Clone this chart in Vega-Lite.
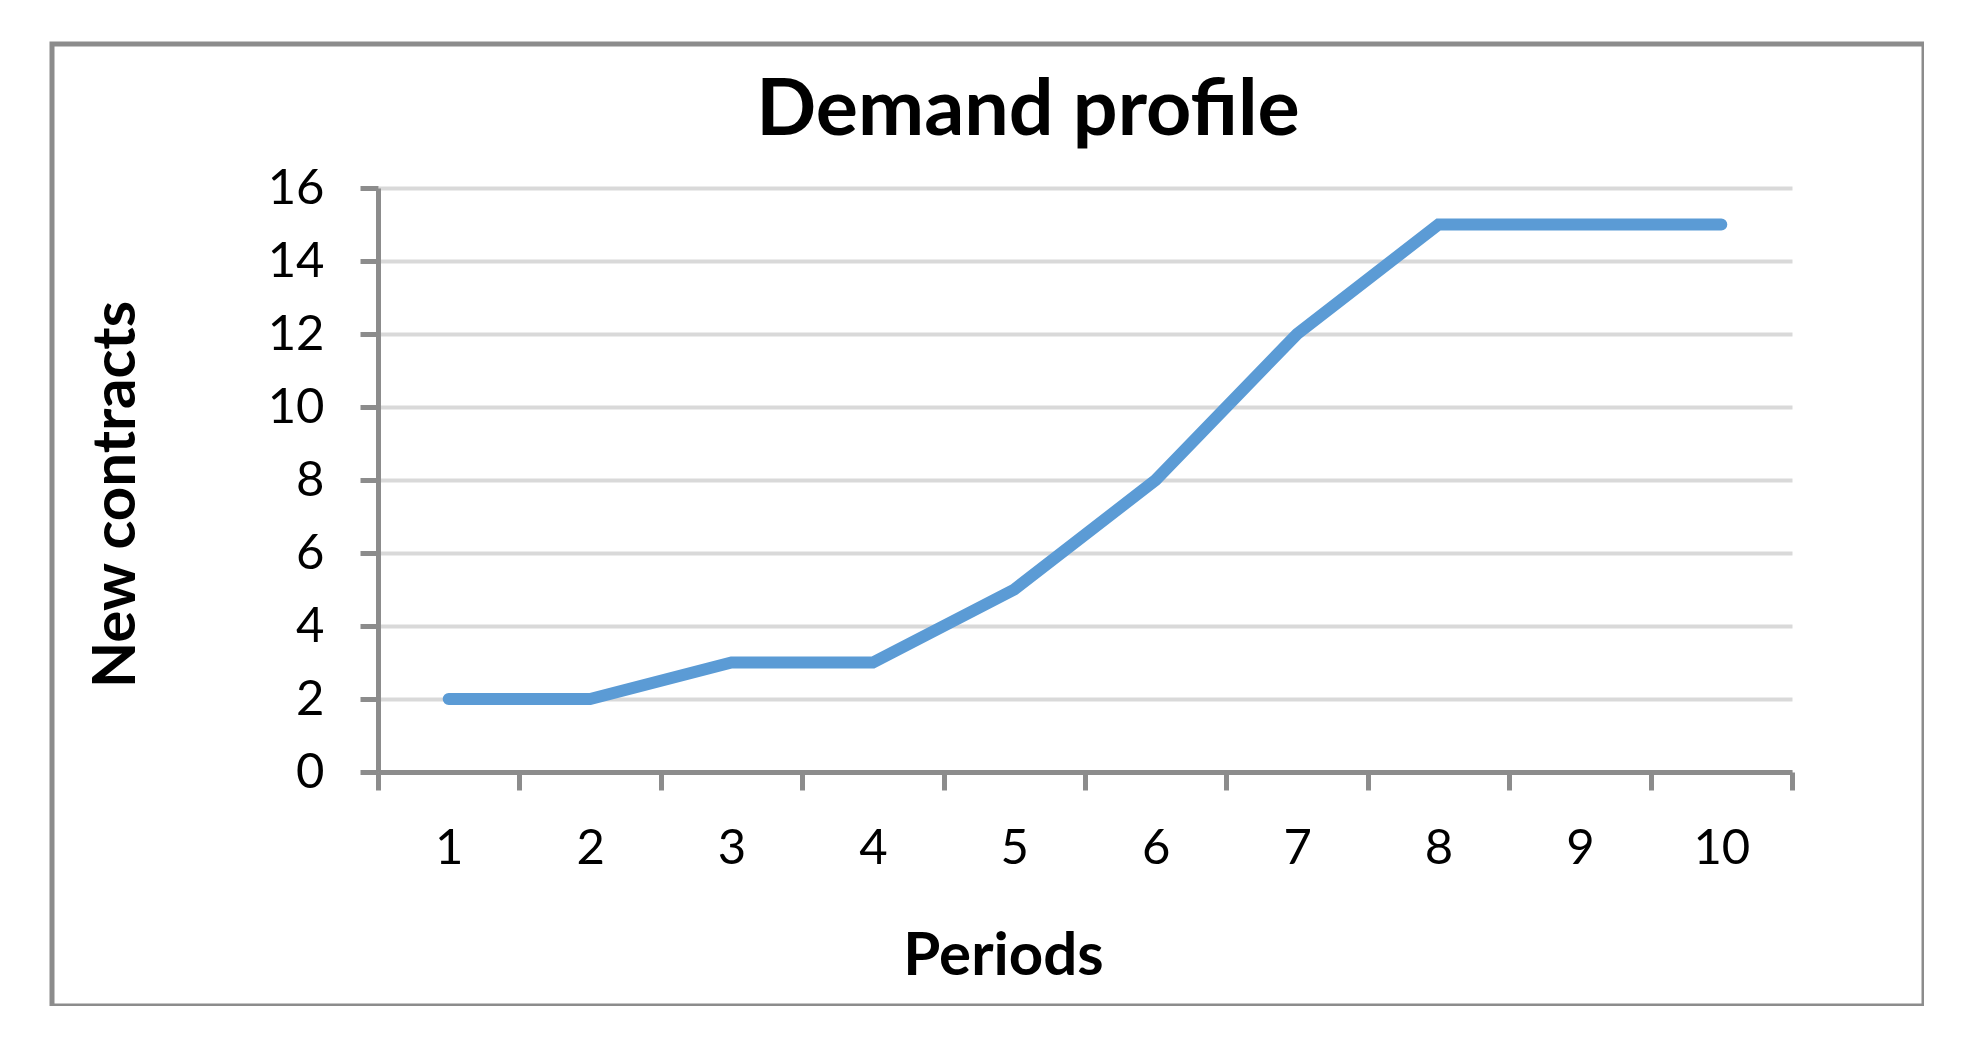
{
  "$schema": "https://vega.github.io/schema/vega-lite/v6.json",
  "width": 1872,
  "height": 962,
  "autosize": "none",
  "padding": {"left": 52, "top": 44, "right": 0, "bottom": 0},
  "background": "white",
  "config": {
    "view": {"stroke": "#8c8c8c", "strokeWidth": 5},
    "font": "Lato"
  },
  "title": {
    "text": "Demand profile",
    "font": "Lato",
    "fontSize": 79,
    "fontWeight": "bold",
    "color": "#000000",
    "anchor": "middle",
    "frame": "group",
    "offset": 0,
    "baseline": "alphabetic",
    "dx": 40,
    "dy": 170
  },
  "data": {
    "values": [
      {"period": 1, "contracts": 2},
      {"period": 2, "contracts": 2},
      {"period": 3, "contracts": 3},
      {"period": 4, "contracts": 3},
      {"period": 5, "contracts": 5},
      {"period": 6, "contracts": 8},
      {"period": 7, "contracts": 12},
      {"period": 8, "contracts": 15},
      {"period": 9, "contracts": 15},
      {"period": 10, "contracts": 15}
    ]
  },
  "mark": {"type": "line", "color": "#5b9bd5", "strokeWidth": 12, "strokeCap": "round", "strokeJoin": "miter"},
  "encoding": {
    "x": {
      "field": "period",
      "type": "quantitative",
      "scale": {"domain": [0.5, 10.5], "range": [326, 1740], "nice": false, "zero": false},
      "axis": {
        "values": [0.5, 1.5, 2.5, 3.5, 4.5, 5.5, 6.5, 7.5, 8.5, 9.5, 10.5],
        "labelExpr": "datum.value < 10 ? '' + (datum.value + 0.5) : ''",
        "labelOffset": 70.7,
        "labelFlush": false,
        "labelOverlap": false,
        "labelFont": "Lato",
        "labelFontSize": 49,
        "labelColor": "#000000",
        "labelBaseline": "alphabetic",
        "labelPadding": 73,
        "offset": -234,
        "grid": false,
        "domainColor": "#8c8c8c",
        "domainWidth": 5,
        "tickColor": "#8c8c8c",
        "tickWidth": 5,
        "tickSize": 18,
        "title": "Periods",
        "titleFont": "Lato",
        "titleFontSize": 60,
        "titleFontWeight": "bold",
        "titleColor": "#000000",
        "titleX": 951,
        "titleY": 184,
        "titleAlign": "center",
        "titleBaseline": "middle"
      }
    },
    "y": {
      "field": "contracts",
      "type": "quantitative",
      "scale": {"domain": [0, 16], "range": [728, 144], "nice": false, "zero": true},
      "axis": {
        "values": [0, 2, 4, 6, 8, 10, 12, 14, 16],
        "labelFont": "Lato",
        "labelFontSize": 49,
        "labelColor": "#000000",
        "labelPadding": 36,
        "offset": -326,
        "grid": true,
        "gridColor": "#d9d9d9",
        "gridWidth": 4,
        "domainColor": "#8c8c8c",
        "domainWidth": 5,
        "tickColor": "#8c8c8c",
        "tickWidth": 5,
        "tickSize": 18,
        "title": "New contracts",
        "titleFont": "Lato",
        "titleFontSize": 60,
        "titleFontWeight": "bold",
        "titleColor": "#000000",
        "titleX": -262,
        "titleY": 450,
        "titleAngle": 270,
        "titleAlign": "center",
        "titleBaseline": "middle"
      }
    }
  }
}
